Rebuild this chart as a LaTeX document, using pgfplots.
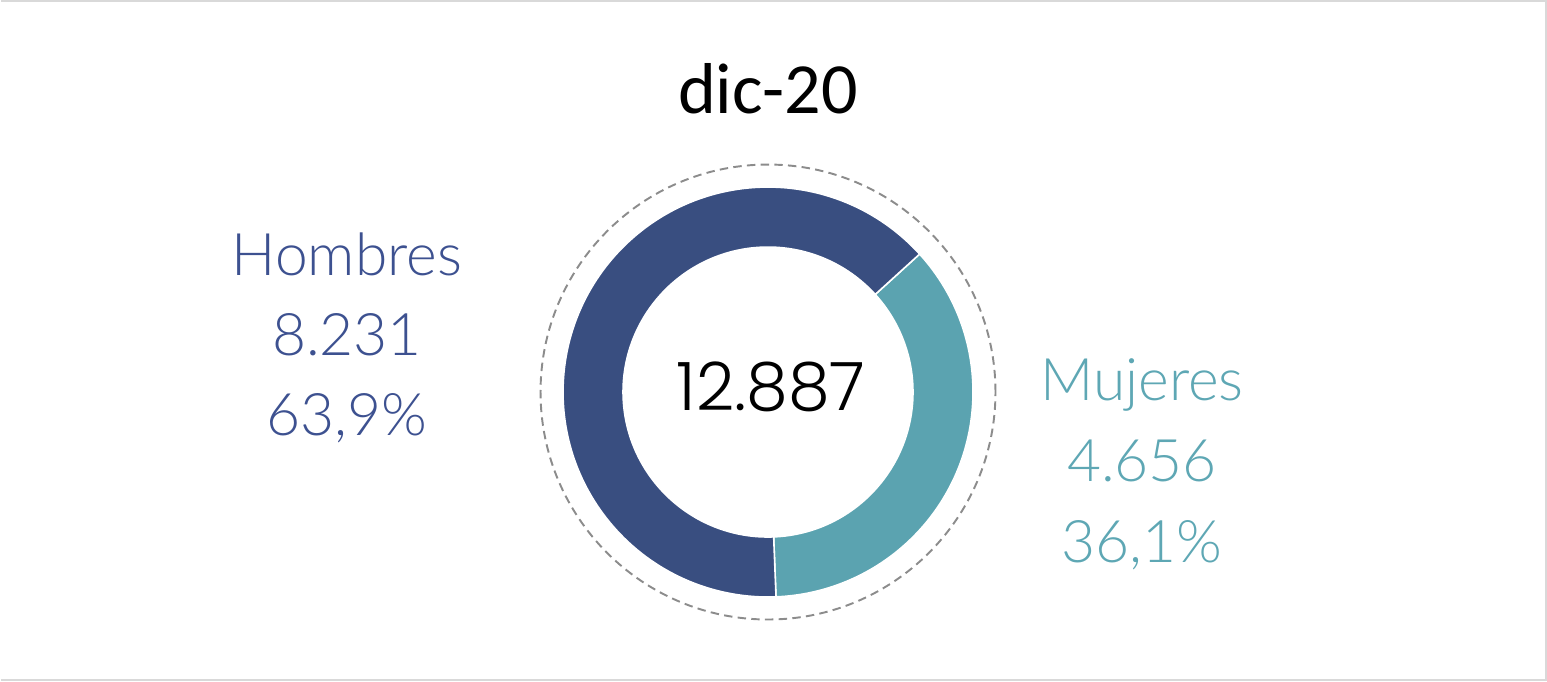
\documentclass[border=0pt]{standalone}
\usepackage{pgfplots}
\pgfplotsset{compat=1.18}
\usepackage{pgfplotstable}
\usepackage{fontspec}
\setmainfont{Carlito}
\newfontfamily\labfont{Lato Light}
\newfontfamily\numfont{Poppins Light}
\definecolor{hom}{HTML}{394E80}
\definecolor{homtxt}{HTML}{3D5190}
\definecolor{muj}{HTML}{5BA3B0}
\definecolor{mujtxt}{HTML}{5EA7B4}
\definecolor{framecol}{HTML}{D9D9D9}
\definecolor{dashcol}{HTML}{8C8C8C}

\pgfplotstableread{
sexo valor
Hombres 8231
Mujeres 4656
}\datos

\begin{document}
\begin{tikzpicture}
\pgfplotstablegetelem{0}{valor}\of\datos \let\vH\pgfplotsretval
\pgfplotstablegetelem{1}{valor}\of\datos \let\vM\pgfplotsretval
\pgfmathsetmacro\aM{360*(\vM/(\vH+\vM))}
\pgfmathsetmacro\aS{42.3}
\pgfmathsetmacro\aE{\aS-\aM}
\pgfmathsetmacro\aHE{\aS+360-\aM}
\begin{axis}[
  width=15.47cm, height=6.84cm, scale only axis,
  xmin=0, xmax=1547, ymin=0, ymax=684, y dir=reverse,
  hide axis, clip=false]
% frame
\draw[framecol, line width=0.6pt] (axis cs:0,1) -- (axis cs:1545,1) -- (axis cs:1545,680) -- (axis cs:0,680);
% dashed circle
\draw[dashcol, line width=0.55pt, dash pattern=on 2.4pt off 1.5pt] (axis cs:767,392) circle[radius=2.275cm];
% donut
\begin{scope}[shift={(axis cs:767,392)}]
\fill[muj, draw=white, line width=0.45pt] (\aS:2.05cm) arc[start angle=\aS, end angle=\aE, radius=2.05cm]
   -- (\aE:1.45cm) arc[start angle=\aE, end angle=\aS, radius=1.45cm] -- cycle;
\fill[hom, draw=white, line width=0.45pt] (\aS:2.05cm) arc[start angle=\aS, end angle=\aHE, radius=2.05cm]
   -- (\aHE:1.45cm) arc[start angle=\aHE, end angle=\aS, radius=1.45cm] -- cycle;
\end{scope}
% texts
\node[anchor=base, font=\fontsize{20.5}{24}\selectfont] at (axis cs:767,113) {dic-20};
\node[anchor=base, font=\numfont\fontsize{19}{22}\selectfont] at (axis cs:770,410) {12.887};
\begin{scope}[every node/.style={anchor=base, font=\labfont\fontsize{16.7}{20}\selectfont}]
\node[homtxt] at (axis cs:346,275) {Hombres};
\node[homtxt] at (axis cs:346,355) {8.231};
\node[homtxt] at (axis cs:346,435) {63,9\%};
\node[mujtxt] at (axis cs:1141,400) {Mujeres};
\node[mujtxt] at (axis cs:1141,481) {4.656};
\node[mujtxt] at (axis cs:1141,562) {36,1\%};
\end{scope}
\end{axis}
\end{tikzpicture}
\end{document}
